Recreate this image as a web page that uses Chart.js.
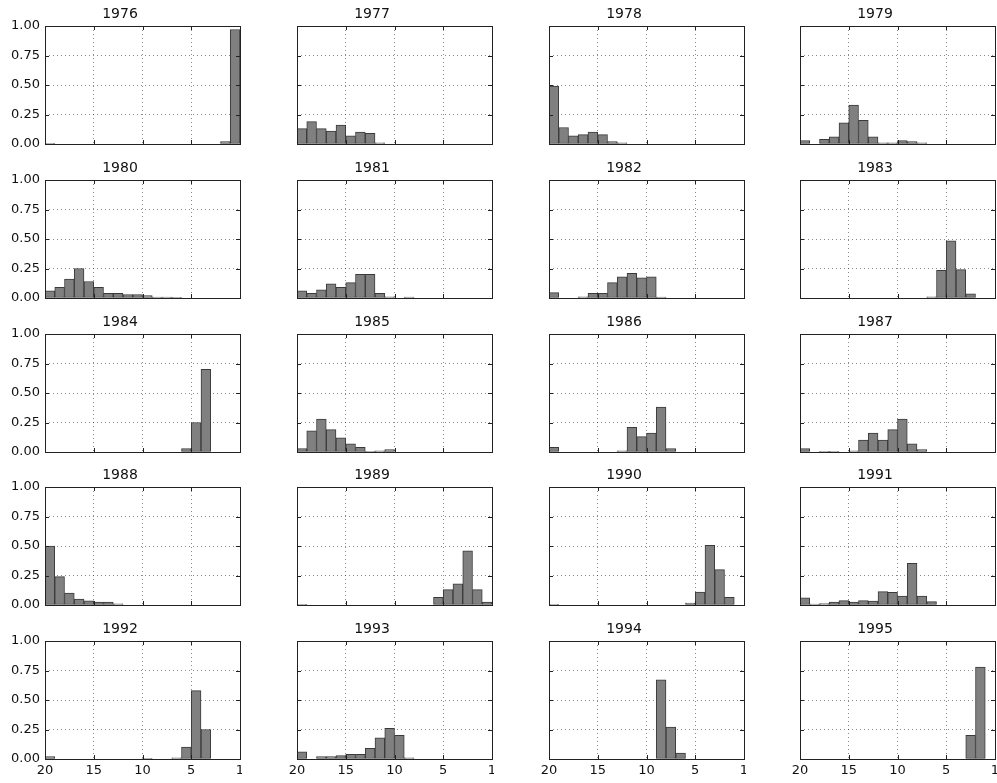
<!DOCTYPE html>
<html>
<head>
<meta charset="utf-8">
<script src="https://cdn.jsdelivr.net/npm/chart.js@4.4.0/dist/chart.umd.min.js"></script>
<style>
    html, body { margin: 0; padding: 0; background: #fff; overflow: hidden; }
    #grid { position: relative; width: 997px; height: 783px; }
    #grid canvas { position: absolute; }
</style>
</head>
<body>
<div id="grid"></div>
<script>
// Years, one panel each
const years = [1976, 1977, 1978, 1979, 1980, 1981, 1982, 1983, 1984, 1985,
               1986, 1987, 1988, 1989, 1990, 1991, 1992, 1993, 1994, 1995];

// Bins from left to right: 20 ... 1
const bins = [20, 19, 18, 17, 16, 15, 14, 13, 12, 11, 10, 9, 8, 7, 6, 5, 4, 3, 2, 1];

// Shares per bin, left to right
const v1976 = [0.005, 0, 0, 0, 0, 0, 0, 0, 0, 0, 0, 0, 0, 0, 0, 0, 0, 0, 0.02, 0.97];
const v1977 = [0.13, 0.19, 0.13, 0.11, 0.16, 0.07, 0.10, 0.09, 0.01, 0, 0, 0, 0, 0, 0, 0, 0, 0, 0, 0];
const v1978 = [0.49, 0.14, 0.07, 0.08, 0.10, 0.08, 0.02, 0.01, 0, 0, 0, 0, 0, 0, 0, 0, 0, 0, 0, 0];
const v1979 = [0.03, 0, 0.04, 0.06, 0.18, 0.33, 0.20, 0.06, 0.01, 0.01, 0.03, 0.02, 0.01, 0, 0, 0, 0, 0, 0, 0];
const v1980 = [0.06, 0.09, 0.16, 0.25, 0.14, 0.09, 0.04, 0.04, 0.03, 0.03, 0.02, 0.008, 0.008, 0.003, 0, 0, 0, 0, 0, 0];
const v1981 = [0.06, 0.04, 0.07, 0.12, 0.09, 0.13, 0.20, 0.20, 0.04, 0.01, 0, 0.008, 0, 0, 0, 0, 0, 0, 0, 0];
const v1982 = [0.045, 0, 0, 0.01, 0.04, 0.04, 0.13, 0.18, 0.21, 0.17, 0.18, 0.008, 0, 0, 0, 0, 0, 0, 0, 0];
const v1983 = [0, 0, 0, 0, 0, 0, 0, 0, 0, 0, 0, 0, 0, 0.01, 0.235, 0.485, 0.24, 0.035, 0, 0];
const v1984 = [0, 0, 0, 0, 0, 0, 0, 0, 0, 0, 0, 0, 0, 0, 0.03, 0.25, 0.70, 0, 0, 0];
const v1985 = [0.03, 0.18, 0.28, 0.19, 0.12, 0.07, 0.04, 0.005, 0.01, 0.02, 0, 0, 0, 0, 0, 0, 0, 0, 0, 0];
const v1986 = [0.04, 0, 0, 0, 0, 0, 0, 0.01, 0.21, 0.13, 0.16, 0.38, 0.03, 0, 0, 0, 0, 0, 0, 0];
const v1987 = [0.03, 0, 0.005, 0.005, 0, 0.01, 0.10, 0.16, 0.10, 0.19, 0.28, 0.07, 0.02, 0, 0, 0, 0, 0, 0, 0];
const v1988 = [0.50, 0.24, 0.10, 0.05, 0.035, 0.025, 0.025, 0.01, 0, 0, 0, 0, 0, 0, 0, 0, 0, 0, 0, 0];
const v1989 = [0.005, 0, 0, 0, 0, 0, 0, 0, 0, 0, 0, 0, 0, 0, 0.065, 0.13, 0.18, 0.46, 0.13, 0.025];
const v1990 = [0.003, 0, 0, 0, 0, 0, 0, 0, 0, 0, 0, 0, 0, 0, 0.017, 0.11, 0.505, 0.30, 0.065, 0];
const v1991 = [0.06, 0.008, 0.011, 0.025, 0.037, 0.025, 0.037, 0.034, 0.113, 0.107, 0.076, 0.353, 0.076, 0.028, 0, 0, 0, 0, 0, 0];
const v1992 = [0.02, 0, 0, 0, 0, 0, 0, 0, 0, 0, 0.005, 0, 0, 0.01, 0.10, 0.58, 0.25, 0, 0, 0];
const v1993 = [0.06, 0, 0.02, 0.02, 0.03, 0.04, 0.04, 0.09, 0.18, 0.26, 0.20, 0.01, 0, 0, 0, 0, 0, 0, 0, 0];
const v1994 = [0, 0, 0, 0, 0, 0, 0, 0, 0, 0, 0, 0.67, 0.27, 0.05, 0, 0, 0, 0, 0, 0];
const v1995 = [0, 0, 0, 0, 0, 0, 0, 0, 0, 0, 0, 0, 0, 0, 0, 0, 0, 0.20, 0.78, 0];

const allValues = [v1976, v1977, v1978, v1979, v1980, v1981, v1982, v1983, v1984, v1985,
                   v1986, v1987, v1988, v1989, v1990, v1991, v1992, v1993, v1994, v1995];

const xTicks = [20, 15, 10, 5, 0];
const yTicks = [0, 0.25, 0.5, 0.75, 1];

// Panel placement
const colLeft = [45, 297, 549, 800];
const rowTop = [26, 180, 333.5, 487, 640.5];
const plotW = 195, plotH = 118;
const axisW = 45, titleH = 26, padR = 2;

// Frame with inward ticks on all four sides
const framePlugin = {
    id: 'frame',
    afterDraw(chart) {
        const a = chart.chartArea;
        const ctx = chart.ctx;
        const xs = chart.scales.x, ys = chart.scales.y;
        ctx.save();
        ctx.strokeStyle = '#222';
        ctx.lineWidth = 1;
        ctx.beginPath();
        xTicks.forEach(t => {
            const px = Math.round(xs.getPixelForValue(t)) + 0.5;
            ctx.moveTo(px, a.bottom); ctx.lineTo(px, a.bottom - 4);
            ctx.moveTo(px, a.top); ctx.lineTo(px, a.top + 4);
        });
        yTicks.forEach(t => {
            const py = Math.round(ys.getPixelForValue(t)) + 0.5;
            ctx.moveTo(a.left, py); ctx.lineTo(a.left + 4, py);
            ctx.moveTo(a.right, py); ctx.lineTo(a.right - 4, py);
        });
        ctx.stroke();
        ctx.strokeRect(Math.round(a.left) + 0.5, Math.round(a.top) + 0.5,
                       Math.round(a.right - a.left), Math.round(a.bottom - a.top));
        ctx.restore();
    }
};

const grid = document.getElementById('grid');

years.forEach((year, i) => {
    const row = Math.floor(i / 4), col = i % 4;
    const isLeft = col === 0, isBottom = row === 4;
    const bottomH = isBottom ? 24 : 4;

    const canvas = document.createElement('canvas');
    const w = axisW + plotW + padR, h = titleH + plotH + bottomH;
    canvas.width = w; canvas.height = h;
    canvas.style.left = (colLeft[col] - axisW) + 'px';
    canvas.style.top = (rowTop[row] - titleH) + 'px';
    canvas.style.width = w + 'px';
    canvas.style.height = h + 'px';
    grid.appendChild(canvas);

    const points = bins.map((b, k) => ({ x: b - 0.5, y: allValues[i][k] }));

    new Chart(canvas.getContext('2d'), {
        type: 'bar',
        data: {
            datasets: [{
                data: points,
                backgroundColor: '#808080',
                borderColor: '#3a3a3a',
                borderWidth: 1,
                borderSkipped: false,
                barPercentage: 1,
                categoryPercentage: 1,
                grouped: false
            }]
        },
        options: {
            responsive: false,
            animation: false,
            events: [],
            layout: { padding: { left: 0, right: padR, top: 0, bottom: 0 } },
            scales: {
                x: {
                    type: 'linear',
                    min: 0,
                    max: 20,
                    offset: false,
                    reverse: true,
                    afterBuildTicks: s => { s.ticks = xTicks.map(v => ({ value: v })); },
                    afterFit: s => { s.height = bottomH; s.paddingLeft = 0; s.paddingRight = 0; },
                    ticks: {
                        display: isBottom,
                        autoSkip: false,
                        maxRotation: 0,
                        padding: 4,
                        color: '#111',
                        font: { family: 'DejaVu Sans', size: 13 },
                        callback: v => (v === 0 ? '1' : String(v))
                    },
                    grid: { color: 'rgba(0,0,0,0.45)', lineWidth: 1, drawTicks: false, offset: false },
                    border: { display: false, dash: [1, 3] }
                },
                y: {
                    min: 0,
                    max: 1,
                    afterBuildTicks: s => { s.ticks = yTicks.map(v => ({ value: v })); },
                    afterFit: s => { s.width = axisW; s.paddingTop = 0; s.paddingBottom = 0; },
                    ticks: {
                        display: isLeft,
                        padding: 5,
                        color: '#111',
                        font: { family: 'DejaVu Sans', size: 13 },
                        callback: v => v.toFixed(2)
                    },
                    grid: { color: 'rgba(0,0,0,0.45)', lineWidth: 1, drawTicks: false },
                    border: { display: false, dash: [1, 3] }
                }
            },
            plugins: {
                legend: { display: false },
                tooltip: { enabled: false },
                title: {
                    display: true,
                    text: String(year),
                    color: '#111',
                    font: { family: 'DejaVu Sans', size: 14, weight: 'normal' },
                    padding: { top: 6, bottom: 3.2 }
                }
            }
        },
        plugins: [framePlugin]
    });
});
</script>
</body>
</html>
